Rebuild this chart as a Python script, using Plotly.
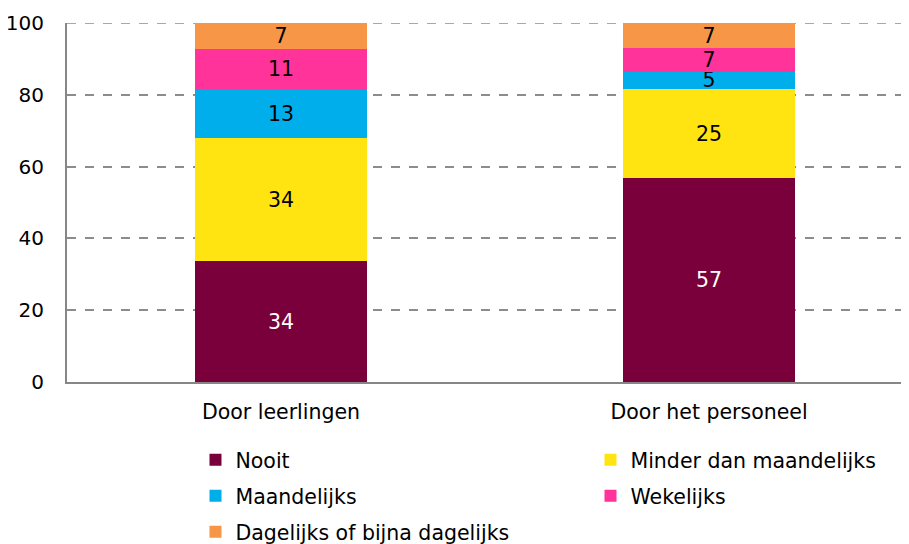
import plotly.graph_objects as go

# Data (percentages)
groups = ["Door leerlingen", "Door het personeel"]
series = ["Nooit", "Minder dan maandelijks", "Maandelijks", "Wekelijks", "Dagelijks of bijna dagelijks"]
nooit = [33.6, 56.8]
minder = [34.4, 24.8]
maandelijks = [13.4, 4.8]
wekelijks = [11.4, 6.6]
dagelijks = [7.2, 7.0]

colors = ["#7A003C", "#FFE411", "#00AEEB", "#FF3399", "#F79646"]
text_colors = ["white", "black", "black", "black", "black"]
# two entries per legend row -> one legend per row
legend_ids = ["legend", "legend", "legend2", "legend2", "legend3"]
FONT = "DejaVu Sans"
FS = 20.5

fig = go.Figure()
for name, vals, col, tcol, lg in zip(series, [nooit, minder, maandelijks, wekelijks, dagelijks],
                                     colors, text_colors, legend_ids):
    fig.add_trace(go.Bar(
        x=groups, y=vals, name=name, legend=lg,
        marker=dict(color=col, line=dict(width=0)),
        texttemplate="%{y:.0f}", textposition="inside", insidetextanchor="middle",
        textangle=0, constraintext="none",
        insidetextfont=dict(color=tcol, size=FS, family=FONT),
        hoverinfo="skip",
    ))

# dashed gridline at the top of the axis (plotly drops the edge one)
fig.add_shape(type="line", xref="paper", yref="y", x0=0, x1=1, y0=100, y1=100,
              line=dict(color="#8c8c8c", width=1.5, dash="dash"), layer="below")

legend_style = dict(
    orientation="h", x=0.1526, xanchor="left", yanchor="top",
    entrywidth=350, entrywidthmode="pixels", itemwidth=30,
    traceorder="normal", font=dict(size=FS, family=FONT),
)

fig.update_layout(
    barmode="stack",
    bargap=0.6,
    width=909, height=544,
    margin=dict(l=59, r=8, t=15, b=170, autoexpand=False),
    plot_bgcolor="white", paper_bgcolor="white",
    font=dict(family=FONT, size=FS, color="black"),
    uniformtext=dict(minsize=FS, mode="show"),
    legend=dict(legend_style, y=-0.1616),
    legend2=dict(legend_style, y=-0.2618),
    legend3=dict(legend_style, y=-0.362),
)
fig.update_yaxes(
    range=[0, 100], dtick=20, automargin=False,
    showline=True, linecolor="#868686", linewidth=2,
    showgrid=True, gridcolor="#8c8c8c", griddash="dash", gridwidth=1.5,
    zeroline=False, ticks="", ticklabelstandoff=17,
    tickfont=dict(size=20),
)
fig.update_xaxes(
    range=[-0.5, 1.467], automargin=False,
    showline=True, linecolor="#868686", linewidth=2,
    ticks="", ticklabelstandoff=10,
)

fig.write_html("out.html")
